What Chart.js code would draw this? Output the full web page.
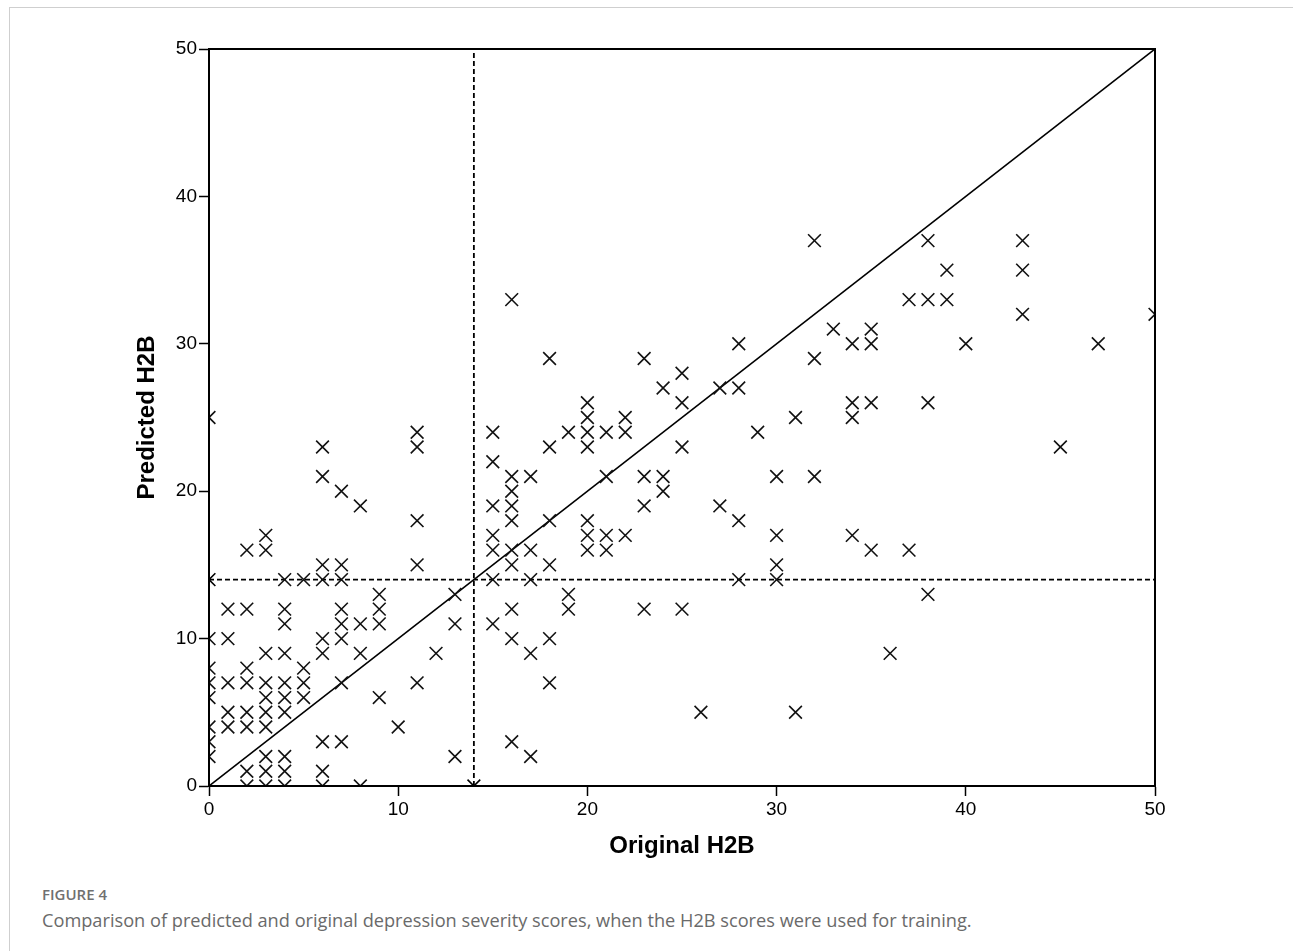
<!DOCTYPE html>
<html>
<head>
<meta charset="utf-8">
<script src="https://cdn.jsdelivr.net/npm/chart.js@4.4.1/dist/chart.umd.min.js"></script>
<style>
  body { margin: 0; background: #fff; width: 1293px; height: 951px; overflow: hidden; position: relative; }
  #frame { position: absolute; left: 9px; top: 7px; width: 1300px; height: 960px;
           border-left: 1.5px solid #cfcfcf; border-top: 1.5px solid #cfcfcf; }
  #chart { position: absolute; left: 0; top: 0; }
  .fig { position: absolute; left: 42px; top: 884px; font: 600 15px "Open Sans", sans-serif; color: #707070; line-height: 20px; }
  .cap { position: absolute; left: 42px; top: 908px; font: 18.2px "Open Sans", sans-serif; color: #6a6a6a; line-height: 24px; }
</style>
</head>
<body>
<div id="frame"></div>
<canvas id="chart" width="1293" height="870"></canvas>
<div class="fig">FIGURE 4</div>
<div class="cap">Comparison of predicted and original depression severity scores, when the H2B scores were used for training.</div>
<script>
// original H2B score (x) and predicted H2B score (y), one pair per subject
var originalH2B = [
  0,0,0,0,0,0,0,0,
  1,1,1,1,1,
  2,2,2,2,2,2,2,2,
  3,3,3,3,3,3,3,3,3,3,
  4,4,4,4,4,4,4,4,4,4,
  5,5,5,5,
  6,6,6,6,6,6,6,6,6,
  7,7,7,7,7,7,7,7,
  8,8,8,8,
  9,9,9,9,
  10,
  11,11,11,11,11,
  12,
  13,13,13,
  15,15,15,15,15,15,15,
  16,16,16,16,16,16,16,16,16,16,
  17,17,17,17,17,
  18,18,18,18,18,18,
  19,19,19,
  20,20,20,20,20,20,20,
  21,21,21,21,
  22,22,22,
  23,23,23,23,
  24,24,24,
  25,25,25,25,
  26,
  27,27,
  28,28,28,28,
  29,
  30,30,30,30,
  31,31,
  32,32,32,
  33,
  34,34,34,34,
  35,35,35,35,
  36,
  37,37,
  38,38,38,38,
  39,39,
  40,
  43,43,43,
  45,
  47,
  50
];
var predictedH2B = [
  25,10,8,7,6,4,3,2,
  12,10,7,5,4,
  16,12,8,7,5,4,1,0,
  17,16,9,7,6,5,4,2,1,0,
  14,12,11,9,7,6,5,2,1,0,
  14,8,7,6,
  23,21,15,14,10,9,3,1,0,
  20,15,14,12,11,10,7,3,
  19,11,9,0,
  13,12,11,6,
  4,
  24,23,18,15,7,
  9,
  13,11,2,
  24,22,19,17,16,14,11,
  33,21,20,19,18,16,15,12,10,3,
  21,16,14,9,2,
  29,23,18,15,10,7,
  24,13,12,
  26,25,24,23,18,17,16,
  24,21,17,16,
  25,24,17,
  29,21,19,12,
  27,21,20,
  28,26,23,12,
  5,
  27,19,
  30,27,18,14,
  24,
  21,17,15,14,
  25,5,
  37,29,21,
  31,
  30,26,25,17,
  31,30,26,16,
  9,
  33,16,
  37,33,26,13,
  35,33,
  30,
  37,35,32,
  23,
  30,
  32
];

var axisMin = 0;
var axisMax = 50;
var axisTicks = [0, 10, 20, 30, 40, 50];
var cutoff = 14;   // severity cut-off used for both reference lines

var points = originalH2B.map(function (x, i) { return { x: x, y: predictedH2B[i] }; });

var tickFont = { family: "'Liberation Sans', Arial, sans-serif", size: 19 };
var titleFont = { family: "'Liberation Sans', Arial, sans-serif", size: 24, weight: 'bold' };

// box around the plot area (top and right sides)
var boxPlugin = {
  id: 'box',
  afterDraw: function (chart) {
    var a = chart.chartArea, ctx = chart.ctx;
    ctx.save();
    ctx.strokeStyle = '#000';
    ctx.lineWidth = 2;
    ctx.strokeRect(a.left, a.top, a.right - a.left, a.bottom - a.top);
    ctx.restore();
  }
};

new Chart(document.getElementById('chart'), {
  type: 'scatter',
  data: {
    datasets: [
      {
        data: points,
        pointStyle: 'crossRot',
        pointRadius: 9,
        pointBorderWidth: 1.6,
        borderColor: '#111',
        backgroundColor: '#111'
      },
      {
        data: [{ x: axisMin, y: axisMin }, { x: axisMax, y: axisMax }],
        showLine: true,
        borderColor: '#000',
        borderWidth: 1.6,
        pointRadius: 0
      },
      {
        data: [{ x: axisMin, y: cutoff }, { x: axisMax, y: cutoff }],
        showLine: true,
        borderColor: '#000',
        borderWidth: 1.8,
        borderDash: [5, 3],
        pointStyle: 'crossRot',
        pointRadius: [9, 0],
        pointBorderWidth: 1.6
      },
      {
        data: [{ x: cutoff, y: axisMin }, { x: cutoff, y: axisMax }],
        showLine: true,
        borderColor: '#000',
        borderWidth: 1.8,
        borderDash: [5, 3],
        pointStyle: 'crossRot',
        pointRadius: [9, 0],
        pointBorderWidth: 1.6
      }
    ]
  },
  options: {
    responsive: false,
    animation: false,
    devicePixelRatio: 1,
    layout: { padding: { left: 133, top: 49, right: 138, bottom: 0 } },
    plugins: { legend: { display: false }, tooltip: { enabled: false } },
    scales: {
      x: {
        type: 'linear',
        min: axisMin,
        max: axisMax,
        afterBuildTicks: function (s) { s.ticks = axisTicks.map(function (v) { return { value: v }; }); },
        afterFit: function (s) { s.height = 84; },
        ticks: { color: '#000', font: tickFont, padding: 2 },
        grid: { drawOnChartArea: false, drawTicks: true, tickLength: 10, tickColor: '#000', tickWidth: 1.5 },
        border: { color: '#000', width: 2 },
        title: { display: true, text: 'Original H2B', color: '#000', font: titleFont, padding: { top: 0, bottom: 9 } }
      },
      y: {
        type: 'linear',
        min: axisMin,
        max: axisMax,
        afterBuildTicks: function (s) { s.ticks = axisTicks.map(function (v) { return { value: v }; }); },
        afterFit: function (s) { s.width = 76; },
        ticks: { color: '#000', font: tickFont, padding: 2 },
        grid: { drawOnChartArea: false, drawTicks: true, tickLength: 10, tickColor: '#000', tickWidth: 1.5 },
        border: { color: '#000', width: 2 },
        title: { display: true, text: 'Predicted H2B', color: '#000', font: titleFont, padding: { top: 0, bottom: 0 } }
      }
    }
  },
  plugins: [boxPlugin]
});
</script>
</body>
</html>
